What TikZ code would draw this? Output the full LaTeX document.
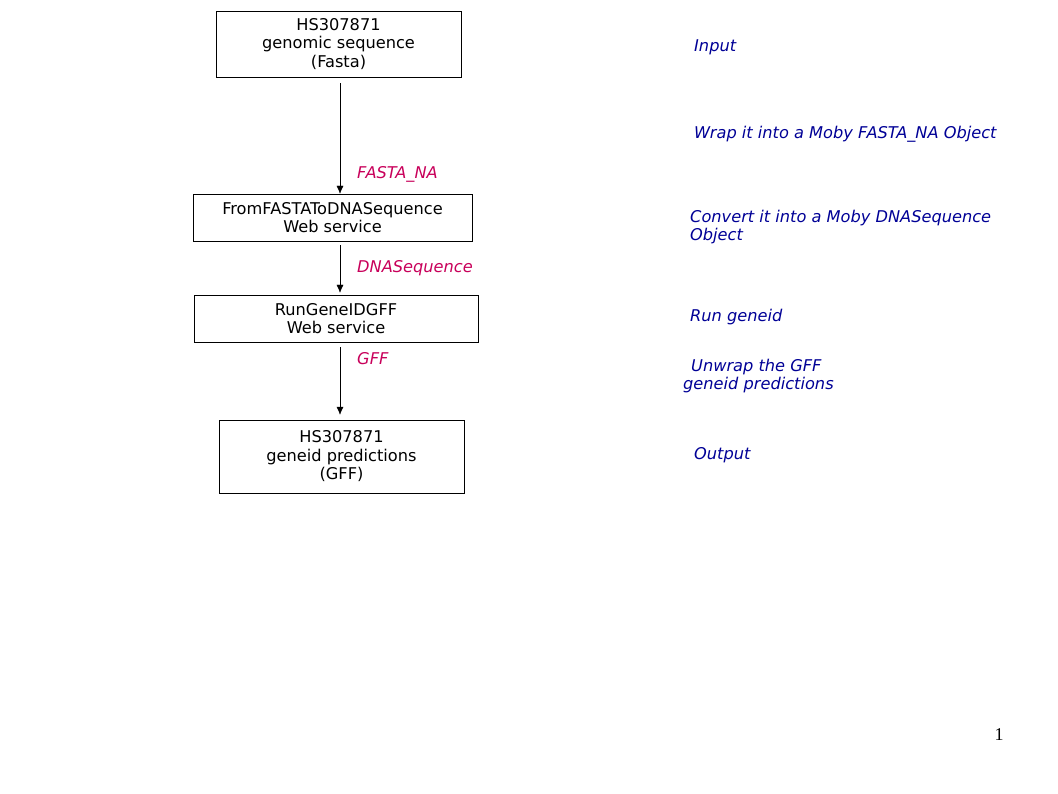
\documentclass[tikz,border=0pt]{standalone}
\usepackage{fontspec}
\setmainfont{DejaVu Sans}
\newfontfamily\pagenumfont{Liberation Serif}
\usetikzlibrary{arrows.meta}
\definecolor{typered}{RGB}{200,0,90}
\definecolor{stepblue}{RGB}{0,0,150}
\tikzset{
  boite/.style={draw, thin, align=center, inner sep=0pt},
  fleche/.style={-{Latex[length=8pt,width=7pt]}, thin},
  typelabel/.style={anchor=west, inner sep=0pt, text=typered, font=\fontsize{16.2}{18.5}\selectfont\itshape},
  steplabel/.style={anchor=west, inner sep=0pt, align=left, text=stepblue, font=\fontsize{16.2}{18.5}\selectfont\itshape}
}
\begin{document}
\begin{tikzpicture}[x=1pt, y=-1pt, font=\fontsize{16.2}{18.5}\selectfont]
  \useasboundingbox (0,0) rectangle (1058,794);
  % Boxes
  \node[boite, minimum width=245, minimum height=66] (fasta) at (338.5,44) {HS307871\\genomic sequence\\(Fasta)};
  \node[boite, minimum width=279, minimum height=47] (fromfasta) at (332.5,217.5) {FromFASTAToDNASequence\\Web service};
  \node[boite, minimum width=284, minimum height=47] (rungeneid) at (336,318.5) {RunGeneIDGFF\\Web service};
  \node[boite, minimum width=245, minimum height=73] (gff) at (341.5,456.5) {HS307871\\geneid predictions\\(GFF)};
  % Arrows
  \coordinate (col) at (340,0);
  \draw[fleche, shorten <=6pt] (fasta.south -| col) -- (fromfasta.north -| col);
  \draw[fleche, shorten <=4pt, shorten >=2pt] (fromfasta.south -| col) -- (rungeneid.north -| col);
  \draw[fleche, shorten <=5pt, shorten >=5pt] (rungeneid.south -| col) -- (gff.north -| col);
  % Object types
  \node[typelabel] (tfasta) at (357,174) {FASTA\_NA};
  \node[typelabel] (tdna) at (357,268) {DNASequence};
  \node[typelabel] (tgff) at (357,359) {GFF};
  % Steps
  \node[steplabel] (sinput) at (694,47) {Input};
  \node[steplabel] (swrap) at (694,134) {Wrap it into a Moby FASTA\_NA Object};
  \node[steplabel] (sconvert) at (690,227) {Convert it into a Moby DNASequence\\Object};
  \node[steplabel] (srun) at (690,317) {Run geneid};
  \node[steplabel] (sunwrap) at (683,376) {\hspace*{8pt}Unwrap the GFF\\geneid predictions};
  \node[steplabel] (soutput) at (694,455) {Output};
  % Page number
  \node[inner sep=0pt, font=\pagenumfont\fontsize{18}{20}\selectfont] (page) at (999,735) {1};
\end{tikzpicture}
\end{document}
